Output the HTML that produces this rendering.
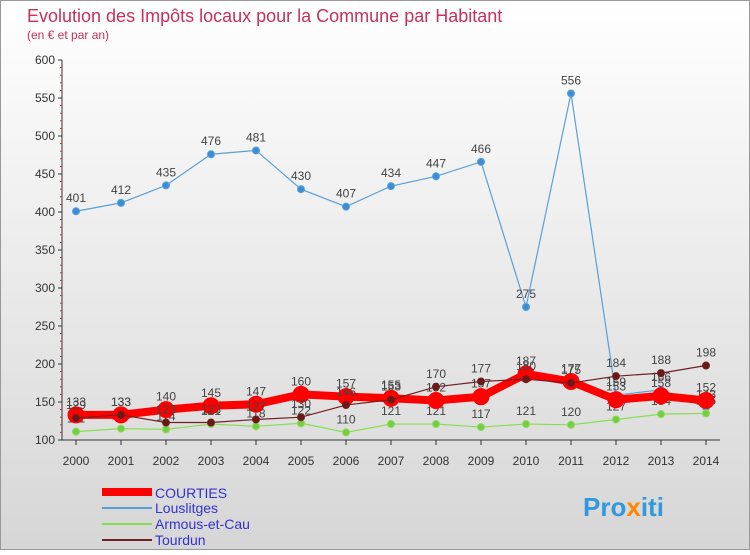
<!DOCTYPE html>
<html><head><meta charset="utf-8"><style>
body{margin:0;width:750px;height:550px;overflow:hidden;font-family:"Liberation Sans",sans-serif;}
</style></head><body>
<svg width="750" height="550" xmlns="http://www.w3.org/2000/svg">
<defs><linearGradient id="bg" x1="0" y1="0" x2="0" y2="1"><stop offset="0" stop-color="#ffffff"/><stop offset="1" stop-color="#d6d6d6"/></linearGradient></defs>
<rect x="0.5" y="0.5" width="749" height="549" fill="url(#bg)" stroke="#999"/>
<text x="27" y="22" font-size="18" fill="#c8305a">Evolution des Impôts locaux pour la Commune par Habitant</text>
<text x="27" y="39" font-size="12" fill="#c8305a">(en € et par an)</text>
<g id="axes"></g><g id="series"></g>
<g>
<line x1="102" y1="492" x2="152" y2="492" stroke="#ff0000" stroke-width="8"/>
<text x="155" y="498" font-size="14" fill="#3333cc">COURTIES</text>
<line x1="102" y1="508" x2="152" y2="508" stroke="#5aa0d8" stroke-width="2"/>
<text x="155" y="513" font-size="14" fill="#3333cc">Louslitges</text>
<line x1="102" y1="524" x2="152" y2="524" stroke="#88dd55" stroke-width="2"/>
<text x="155" y="529" font-size="14" fill="#3333cc">Armous-et-Cau</text>
<line x1="102" y1="540" x2="152" y2="540" stroke="#702020" stroke-width="2"/>
<text x="155" y="545" font-size="14" fill="#3333cc">Tourdun</text>
</g>
<text x="583" y="516" font-size="26" font-weight="bold" fill="#3399dd">Pro<tspan fill="#ff8800">x</tspan>iti</text>
</svg>
<script>
const years=["2000","2001","2002","2003","2004","2005","2006","2007","2008","2009","2010","2011","2012","2013","2014"];
const yTicks=[100,150,200,250,300,350,400,450,500,550,600];
const courties=[133,133,140,145,147,160,157,155,152,157,187,177,153,158,152];
const louslitges=[401,412,435,476,481,430,407,434,447,466,275,556,159,166,143];
const armous=[111,115,114,121,118,122,110,121,121,117,121,120,127,134,135];
const tourdun=[129,133,123,123,127,130,146,153,170,177,180,175,184,188,198];
const NS="http://www.w3.org/2000/svg";
const X=i=>76+i*45, Y=v=>440-(v-100)*0.76;
function mk(tag,attrs,parent){const e=document.createElementNS(NS,tag);for(const k in attrs)e.setAttribute(k,attrs[k]);parent.appendChild(e);return e;}
const ax=document.getElementById('axes'), sg=document.getElementById('series');
let a=mk('line',{x1:62,y1:60,x2:62,y2:440,stroke:'#333'},ax);

a=mk('line',{x1:62,y1:440,x2:720,y2:440,stroke:'#333'},ax);

yTicks.forEach(v=>{const y=Y(v);
 let t=mk('line',{x1:58,y1:y,x2:62,y2:y,stroke:'#333'},ax);
 
 t=mk('text',{x:55,y:y+4,'font-size':12,'text-anchor':'end',fill:'#333'},ax);t.textContent=v;
 
 if(v<600){for(let k=1;k<5;k++){const m=mk('line',{x1:60,y1:y-k*7.6,x2:62,y2:y-k*7.6,stroke:'#c33'},ax);
 }}
});
years.forEach((yr,i)=>{
 let t=mk('line',{x1:X(i),y1:440,x2:X(i),y2:445,stroke:'#333'},ax);
 
 t=mk('text',{x:X(i),y:465,'font-size':12,'text-anchor':'middle',fill:'#333'},ax);t.textContent=yr;
 
});
function series(vals,color,w,r,name,fill){
 const g=mk('g',{},sg);
 const p=mk('polyline',{points:vals.map((v,i)=>X(i)+','+Y(v)).join(' '),fill:'none',stroke:color,'stroke-width':w},g);
 
 vals.forEach((v,i)=>{
  const c=mk('circle',{cx:X(i),cy:Y(v),r:r,fill:fill,stroke:color,'stroke-width':1},g);
  
  const t=mk('text',{x:X(i),y:Y(v)-9,'font-size':12,'text-anchor':'middle',fill:'#444'},g);t.textContent=v;
  
 });
}
series(louslitges,'#5aa0d8',1.2,3.5,'louslitges','#3a8ed8');
series(armous,'#88dd55',1.2,3.5,'armous','#77cc44');
series(courties,'#ff0000',8,8,'courties','#ff0000');
series(tourdun,'#702020',1.2,3.5,'tourdun','#6a1818');
</script>
</body></html>
